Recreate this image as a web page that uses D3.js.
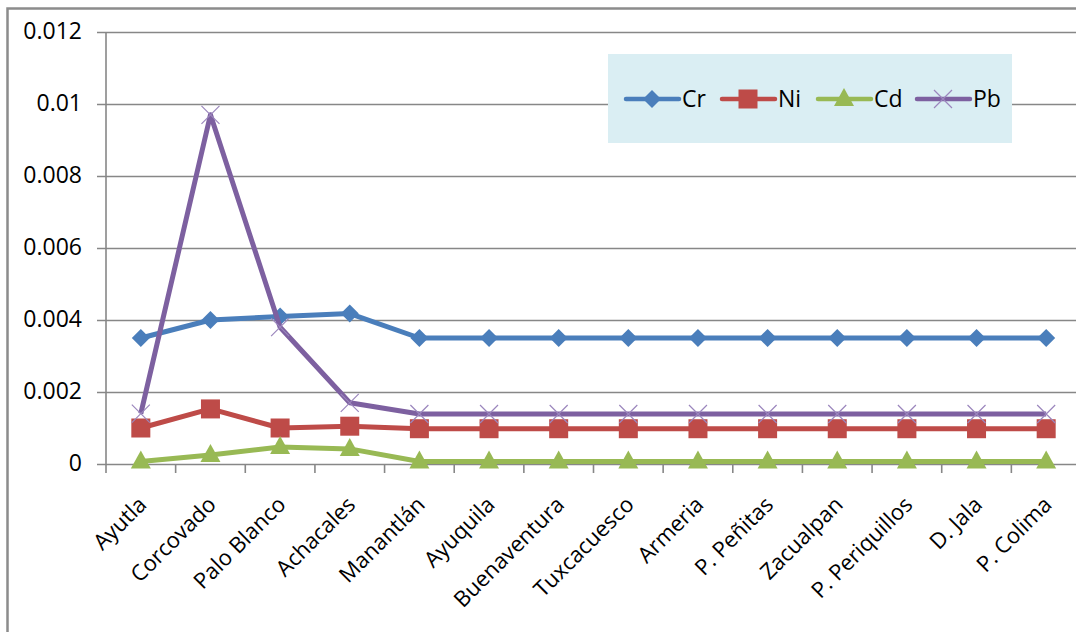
<!DOCTYPE html>
<html><head><meta charset="utf-8">
<script src="https://cdn.jsdelivr.net/npm/d3@7"></script>
<style>
html,body{margin:0;padding:0;background:#fff;overflow:hidden;}
text{font-family:"Open Sans",sans-serif;fill:#000;}
</style></head>
<body>
<svg id="c" width="1076" height="632"></svg>
<script>
const categories = ["Ayutla","Corcovado","Palo Blanco","Achacales","Manantlán","Ayuquila","Buenaventura","Tuxcacuesco","Armeria","P. Peñitas","Zacualpan","P. Periquillos","D. Jala","P. Colima"];
const Cr = [0.0035,0.0040,0.0041,0.00418,0.0035,0.0035,0.0035,0.0035,0.0035,0.0035,0.0035,0.0035,0.0035,0.0035];
const Ni = [0.0010,0.00153,0.0010,0.00105,0.00098,0.00098,0.00098,0.00098,0.00098,0.00098,0.00098,0.00098,0.00098,0.00098];
const Cd = [0.00007,0.00025,0.00047,0.00042,0.00007,0.00007,0.00007,0.00007,0.00007,0.00007,0.00007,0.00007,0.00007,0.00007];
const Pb = [0.0014,0.0097,0.0038,0.0017,0.00139,0.00139,0.00139,0.00139,0.00139,0.00139,0.00139,0.00139,0.00139,0.00139];
const yTicks = [0,0.002,0.004,0.006,0.008,0.01,0.012];
const yTickLabels = ["0","0.002","0.004","0.006","0.008","0.01","0.012"];
const seriesNames = ["Cr","Ni","Cd","Pb"];
const seriesColors = ["#4A7EBB","#BE4B48","#98B954","#7D60A0"];
const seriesData = [Cr,Ni,Cd,Pb];

const svg = d3.select("#c");
const L = 106, R = 1081, T = 32, B = 464;
const x = d3.scaleBand().domain(categories).range([L,R]);
const y = d3.scaleLinear().domain([0,0.012]).range([B,T]);

// outer border
svg.append("rect").attr("x",7.5).attr("y",8.5).attr("width",1100).attr("height",700)
  .attr("fill","none").attr("stroke","#8c8c8c").attr("stroke-width",2.5);

// gridlines + y ticks
const ya = d3.axisLeft(y).tickValues(yTicks).tickSize(-(R-L)).tickPadding(24)
  .tickFormat((d,i)=>yTickLabels[i]);
const gy = svg.append("g").attr("transform",`translate(${L},0)`).call(ya);
gy.select(".domain").remove();
gy.selectAll(".tick line").attr("x1",-9).attr("stroke","#878787").attr("stroke-width",1.6);
gy.selectAll(".tick text").attr("font-size",23).attr("font-family","Open Sans").attr("fill","#000").attr("dy","0.3em");
gy.append("line").attr("x1",0).attr("x2",0).attr("y1",T).attr("y2",B).attr("stroke","#878787").attr("stroke-width",1.6);

// x axis ticks at band boundaries
const gx = svg.append("g");
const bounds = categories.map(c=>x(c)).concat([R]);
gx.selectAll("line.t").data(bounds).join("line").attr("x1",d=>d).attr("x2",d=>d)
  .attr("y1",B).attr("y2",B+9).attr("stroke","#878787").attr("stroke-width",1.6);
gx.selectAll("text").data(categories).join("text")
  .attr("transform",d=>`translate(${x(d)+x.bandwidth()/2+7},${B+42}) rotate(-45)`)
  .attr("text-anchor","end").attr("font-size",22).text(d=>d);

// legend box
const lg = svg.append("g");
lg.append("rect").attr("x",608).attr("y",54).attr("width",404).attr("height",89).attr("fill","#DAEEF3");

function marker(g, name, color, cx, cy){
  if(name==="Cr"){
    g.append("path").attr("d",`M${cx},${cy-9}L${cx+9},${cy}L${cx},${cy+9}L${cx-9},${cy}Z`).attr("fill",color);
  } else if(name==="Ni"){
    g.append("rect").attr("x",cx-9.5).attr("y",cy-9.5).attr("width",19).attr("height",19).attr("fill",color);
  } else if(name==="Cd"){
    g.append("path").attr("d",`M${cx},${cy-11}L${cx+10},${cy+7}L${cx-10},${cy+7}Z`).attr("fill",color);
  } else {
    g.append("path").attr("d",`M${cx-9},${cy-9}L${cx+9},${cy+9}M${cx+9},${cy-9}L${cx-9},${cy+9}`)
     .attr("stroke","#9b86bd").attr("stroke-width",1.2).attr("fill","none");
  }
}

const legX = [626,722,818,917];
seriesNames.forEach((n,i)=>{
  const g = lg.append("g");
  g.append("line").attr("x1",legX[i]).attr("x2",legX[i]+53).attr("y1",99).attr("y2",99)
    .attr("stroke",seriesColors[i]).attr("stroke-width",4.5).attr("stroke-linecap","round");
  marker(g,n,seriesColors[i],legX[i]+26,99);
  g.append("text").attr("x",legX[i]+56).attr("y",99).attr("dy","0.36em").attr("font-size",23).text(n);
});

// series
const cx = d=>x(d)+x.bandwidth()/2;
const line = d3.line().x((d,i)=>cx(categories[i])).y(d=>y(d));
seriesData.forEach((data,si)=>{
  const g = svg.append("g");
  g.append("path").datum(data).attr("d",line).attr("fill","none")
   .attr("stroke",seriesColors[si]).attr("stroke-width",5).attr("stroke-linejoin","round");
  data.forEach((v,i)=>marker(g,seriesNames[si],seriesColors[si],cx(categories[i]),y(v)));
});
</script>
</body></html>
